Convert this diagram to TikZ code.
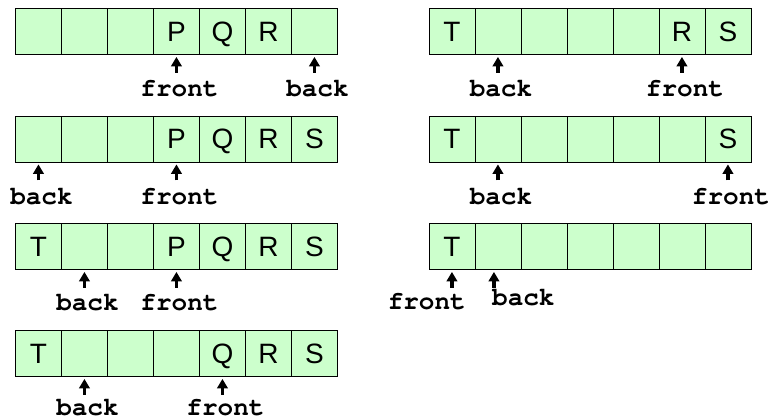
\documentclass[tikz,border=0pt]{standalone}
\usepackage{fontspec}
\setmainfont{Liberation Sans}
\newfontfamily\ptrfont{texgyrecursor-bold.otf}
\newfontfamily\cellfont{Liberation Sans}
\usetikzlibrary{arrows.meta}
\definecolor{cellgreen}{RGB}{204,255,204}
\tikzset{
  cell/.style={draw=black, line width=0.9pt, fill=cellgreen,
    minimum width=46pt, minimum height=46pt, inner sep=0pt,
    text height=19.3pt, text depth=0pt, anchor=north west},
  ptr/.style={line width=3.4pt, -{Triangle[width=10.5pt,length=9.5pt]}, shorten >=2pt},
  ptrlabel/.style={font=\ptrfont\fontsize{26}{26}\selectfont, inner sep=0pt, anchor=base},
}
% one queue array of seven cells: name, left x, top y, cell contents
\newcommand\qrow[4]{%
  \foreach \t [count=\i] in {#4} {
    \node[cell] (#1-\i) at ({#2+46*(\i-1)}, #3) {\cellfont\fontsize{28}{28}\selectfont\t};
  }
}
% pointer arrow below a cell with its label: id, cell, label, label drop
\newcommand\qptr[4]{%
  \coordinate (#1-tail) at ([yshift=-18pt]#2.south);
  \draw[ptr] (#1-tail) -- (#2.south);
  \node[ptrlabel] (#1-lbl) at ([xshift=3pt,yshift=-#4pt]#2.south) {#3};
}
\begin{document}
\begin{tikzpicture}[x=1pt,y=-1pt]
  \useasboundingbox (0,0) rectangle (771,420);

  % left column
  \qrow{a}{15}{8}{{},{},{},P,Q,R,{}}
  \qptr{af}{a-4}{front}{42}
  \qptr{ab}{a-7}{back}{42}

  \qrow{b}{15}{115.5}{{},{},{},P,Q,R,S}
  \qptr{bb}{b-1}{back}{42}
  \qptr{bf}{b-4}{front}{42}

  \qrow{c}{15}{223}{T,{},{},P,Q,R,S}
  \qptr{cb}{c-2}{back}{41}
  \qptr{cf}{c-4}{front}{41}

  \qrow{d}{15}{330}{T,{},{},{},Q,R,S}
  \qptr{db}{d-2}{back}{39}
  \qptr{df}{d-5}{front}{39}

  % right column
  \qrow{e}{428.5}{8}{T,{},{},{},{},R,S}
  \qptr{eb}{e-2}{back}{42}
  \qptr{ef}{e-6}{front}{42}

  \qrow{f}{428.5}{115.5}{T,{},{},{},{},{},S}
  \qptr{fb}{f-2}{back}{42}
  \qptr{ff}{f-7}{front}{42}

  \qrow{g}{428.5}{223}{T,{},{},{},{},{},{}}
  \coordinate (gf-tail) at ([yshift=-18pt]g-1.south);
  \draw[ptr] (gf-tail) -- (g-1.south);
  \node[ptrlabel, anchor=base east] (gf-lbl) at ([xshift=14pt,yshift=-40pt]g-1.south) {front};
  \coordinate (gb-tail) at ([xshift=-4pt,yshift=-18pt]g-2.south);
  \draw[ptr] (gb-tail) -- ([xshift=-4pt]g-2.south);
  \node[ptrlabel, anchor=base west] (gb-lbl) at ([xshift=-6pt,yshift=-36pt]g-2.south) {back};
\end{tikzpicture}
\end{document}
